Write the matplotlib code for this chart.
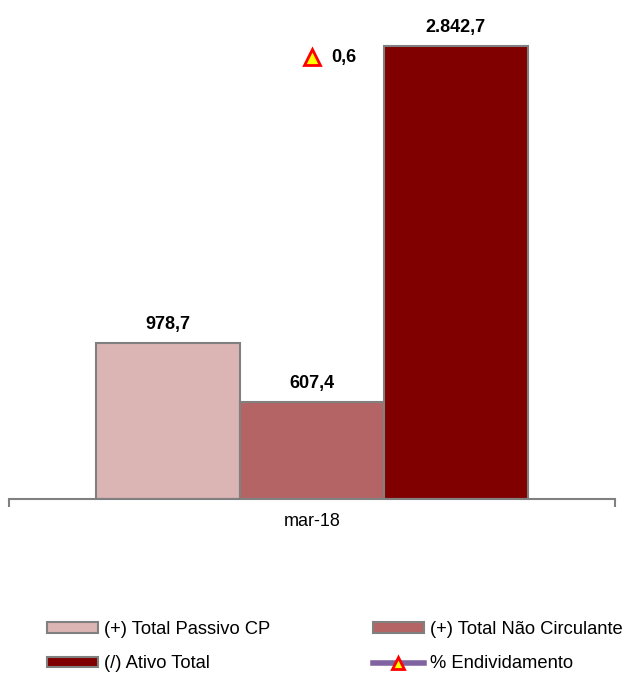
import matplotlib
matplotlib.use("Agg")
import matplotlib.pyplot as plt
from matplotlib.patches import Patch
from matplotlib.lines import Line2D

plt.rcParams['font.family'] = ['Liberation Sans', 'DejaVu Sans']

categories = ["mar-18"]
series_names = ["(+) Total Passivo CP", "(+) Total Não Circulante", "(/) Ativo Total"]
series_values = [[978.7], [607.4], [2842.7]]
value_labels = ["978,7", "607,4", "2.842,7"]
line_name = "% Endividamento"
line_values = [0.6]
line_labels = ["0,6"]

colors = ["#DBB4B4", "#B46464", "#800000"]
edge = "#808080"

W, H = 624, 673
fig = plt.figure(figsize=(W / 100, H / 100), dpi=100)
ax_left, ax_right, ax_top, ax_bot = 9, 615, 20, 499
ax = fig.add_axes([ax_left / W, 1 - ax_bot / H, (ax_right - ax_left) / W, (ax_bot - ax_top) / H])

bw = 143.7 / (ax_right - ax_left)
n = len(series_values)
handles = []
for i, (vals, c) in enumerate(zip(series_values, colors)):
    off = (i - (n - 1) / 2) * bw
    xs = [k + off for k in range(len(categories))]
    ax.bar(xs, vals, width=bw, color=c, edgecolor=edge, linewidth=1.5, zorder=2)
    for x, v, lab in zip(xs, vals, [value_labels[i]]):
        ax.annotate(lab, (x, v), xytext=(0, 7.5), textcoords="offset points",
                    ha="center", va="bottom", fontsize=13, fontweight="bold")
    handles.append(Patch(facecolor=c, edgecolor=edge, linewidth=1.5, label=series_names[i]))

ax.set_xlim(-0.5, 0.5)
ax.set_ylim(0, (ax_bot - ax_top) * 2842.7 / 453)
ax.set_yticks([])
for s in ["top", "right", "left"]:
    ax.spines[s].set_visible(False)
ax.spines["bottom"].set_color(edge)
ax.spines["bottom"].set_linewidth(1.5)
ax.set_xticks([-0.5, 0.5], minor=False)
ax.set_xticklabels(["", ""])
ax.tick_params(axis="x", direction="out", length=6, width=1.5, color=edge)
ax.text(0, -0.03, categories[0], transform=ax.get_xaxis_transform(), ha="center", va="top", fontsize=13)

ax2 = ax.twinx()
ax2.set_ylim(0, 0.6 * (ax_bot - ax_top) / (ax_bot - 57))
ax2.set_yticks([])
for s in ax2.spines.values():
    s.set_visible(False)
ax2.plot(range(len(categories)), line_values, color="#8064A2", linewidth=3,
         marker="^", markersize=12, markerfacecolor="#FFFF00", markeredgecolor="#FF0000",
         markeredgewidth=2, zorder=3)
for k, (v, lab) in enumerate(zip(line_values, line_labels)):
    ax2.annotate(lab, (k, v), xytext=(14, 0), textcoords="offset points",
                 ha="left", va="center", fontsize=13, fontweight="bold")

handles.append(Line2D([], [], color="#8064A2", linewidth=4, marker="^", markersize=9,
                      markerfacecolor="#FFFF00", markeredgecolor="#FF0000", markeredgewidth=2,
                      label=line_name))
order = [handles[0], handles[2], handles[1], handles[3]]
leg = fig.legend(handles=order, loc="upper left", bbox_to_anchor=(47 / W, 1 - 621 / H),
                 ncol=2, frameon=False, fontsize=13.2, handlelength=2.8, handleheight=0.5,
                 handletextpad=0.3, columnspacing=5.6, labelspacing=0.95, borderaxespad=0,
                 borderpad=0)

fig.savefig("out.png", dpi=100)
